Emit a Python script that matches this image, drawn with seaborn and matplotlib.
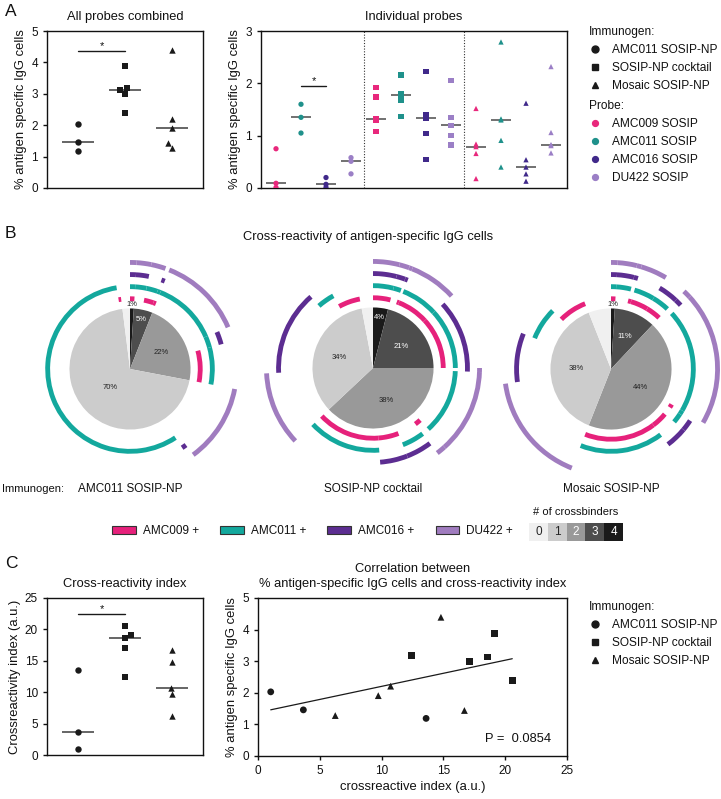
import numpy as np
import pandas as pd
import matplotlib
matplotlib.use("Agg")
import matplotlib.pyplot as plt
from matplotlib.lines import Line2D
from matplotlib.patches import Patch
from matplotlib.colors import ListedColormap
import seaborn as sns

# ---- data -------------------------------------------------------------
immunogens = ["AMC011 SOSIP-NP", "SOSIP-NP cocktail", "Mosaic SOSIP-NP"]
imm_markers = ["o", "s", "^"]
probes = ["AMC009 SOSIP", "AMC011 SOSIP", "AMC016 SOSIP", "DU422 SOSIP"]
probe_short = ["AMC009 +", "AMC011 +", "AMC016 +", "DU422 +"]

# one value per mouse (panel A left, C left, C right)
mouse_immunogen = ["AMC011 SOSIP-NP"] * 3 + ["SOSIP-NP cocktail"] * 5 + ["Mosaic SOSIP-NP"] * 5
pct_specific = [2.03, 1.46, 1.19, 3.19, 2.99, 3.13, 3.87, 2.40, 1.28, 1.91, 2.21, 4.39, 1.44]
cr_index = [1.03, 3.67, 13.6, 12.45, 17.1, 18.56, 19.13, 20.57, 6.25, 9.73, 10.73, 14.8, 16.7]

# individual probes, order = probes
probe_pct_amc011np = [[0.75, 0.09, 0.01], [1.60, 1.35, 1.05], [0.20, 0.07, 0.01], [0.58, 0.51, 0.27]]
probe_pct_cocktail = [[1.92, 1.74, 1.32, 1.30, 1.08], [2.16, 1.80, 1.77, 1.68, 1.37],
                      [2.22, 1.40, 1.34, 1.04, 0.55], [2.06, 1.35, 1.20, 1.00, 0.82]]
probe_pct_mosaic = [[1.52, 0.84, 0.79, 0.66, 0.18], [2.79, 1.32, 1.30, 0.91, 0.40],
                    [1.62, 0.54, 0.40, 0.27, 0.13], [2.32, 1.06, 0.83, 0.81, 0.67]]

# cross-binding subsets, clockwise from 12 o'clock
# a = AMC009, b = AMC011, c = AMC016, d = DU422
probe_codes = ["a", "b", "c", "d"]
pie1_sets = ["abcd", "bcd", "abd", "abc", "bd", "bc", "ab", "d", "c", "b", "a", ""]
pie1_pct = [1.0, 2.2, 2.2, 0.6, 12.6, 2.2, 7.2, 11.9, 0.8, 56.7, 0.6, 2.0]
pie2_sets = ["abcd", "bcd", "acd", "abd", "abc", "cd", "bd", "ad", "bc", "ac", "ab", "d", "c", "b", "a", ""]
pie2_pct = [4.0, 1.5, 0.5, 7.2, 11.8, 0.6, 12.7, 1.4, 4.4, 4.7, 14.2, 11.2, 14.4, 3.4, 5.0, 3.0]
pie3_sets = ["abcd", "bcd", "acd", "abd", "abc", "cd", "bd", "ab", "bc", "ac", "ab", "d", "c", "b", "a", ""]
pie3_pct = [1.0, 2.9, 0.7, 4.0, 3.4, 1.2, 20.2, 0.8, 1.9, 3.6, 16.3, 16.8, 8.3, 6.4, 6.5, 6.0]

pval_text = "P =  0.0854"

# ---- style ------------------------------------------------------------
marker_palette = ["#e8287c", "#1f918b", "#40298a", "#9b7fc6"]
ring_palette = ["#e6217b", "#13a89d", "#5c2d91", "#a07cbf"]
grey_levels = ["#f0f0f0", "#cccccc", "#999999", "#4d4d4d", "#1a1a1a"]

sns.set_theme(style="ticks", rc={
    "axes.linewidth": 1.0, "axes.edgecolor": "#111111",
    "xtick.major.width": 1.0, "ytick.major.width": 1.0,
    "xtick.major.size": 3, "ytick.major.size": 3,
    "xtick.labelsize": 8.5, "ytick.labelsize": 8.5,
    "axes.labelsize": 9.4, "axes.titlesize": 9.3, "font.size": 8.5,
    "text.color": "#111111", "axes.labelcolor": "#111111",
    "xtick.color": "#111111", "ytick.color": "#111111",
})
plt.rcParams["font.family"] = ["Liberation Sans", "DejaVu Sans"]

W, H = 721, 799
fig = plt.figure(figsize=(W / 100, H / 100), dpi=100)


def px_axes(l, t, r, b):
    return fig.add_axes([l / W, 1 - b / H, (r - l) / W, (b - t) / H])


df_mouse = pd.DataFrame({"immunogen": mouse_immunogen, "pct": pct_specific, "cri": cr_index})

rows = []
for imm, block in zip(immunogens, [probe_pct_amc011np, probe_pct_cocktail, probe_pct_mosaic]):
    for p, vals in zip(probes, block):
        for v in vals:
            rows.append((imm, p, imm + "|" + p, v))
df_probe = pd.DataFrame(rows, columns=["immunogen", "probe", "slot", "pct"])
slots = [imm + "|" + p for imm in immunogens for p in probes]


def group_dots(ax, col, med_width, sig_y, ylim, yticks):
    for imm, mk in zip(immunogens, imm_markers):
        sns.swarmplot(data=df_mouse[df_mouse.immunogen == imm], x="immunogen", y=col,
                      order=immunogens, marker=mk, color="k", size=4.6, ax=ax)
    sns.pointplot(data=df_mouse, x="immunogen", y=col, order=immunogens, estimator="median",
                  errorbar=None, markers="_", linestyles="none", color="0.35",
                  markersize=med_width, markeredgewidth=1.3, ax=ax)
    ax.plot([0, 1], [sig_y, sig_y], color="k", lw=1)
    ax.text(0.5, sig_y, "*", ha="center", va="bottom", fontsize=8)
    ax.set_xlim(-0.66, 2.66)
    ax.set_ylim(*ylim)
    ax.set_yticks(yticks)
    ax.set_xticks([])
    ax.set_xlabel("")


# ---- panel A ----------------------------------------------------------
axA1 = px_axes(47, 31, 203, 188)
group_dots(axA1, "pct", 23, 4.35, (0, 5), range(0, 6))
axA1.set_ylabel("% antigen specific IgG cells", labelpad=3)
axA1.set_title("All probes combined", pad=8)

axA2 = px_axes(261, 31, 567, 188)
for imm, mk in zip(immunogens, imm_markers):
    sns.stripplot(data=df_probe[df_probe.immunogen == imm], x="slot", y="pct", order=slots,
                  hue="probe", hue_order=probes, palette=marker_palette, marker=mk,
                  jitter=False, size=3.8, legend=False, ax=axA2)
sns.pointplot(data=df_probe, x="slot", y="pct", order=slots, estimator="median", errorbar=None,
              markers="_", linestyles="none", color="0.35", markersize=14, markeredgewidth=1.2,
              ax=axA2)
for b in (3.5, 7.5):
    axA2.axvline(b, color="#333333", ls=(0, (1, 1.5)), lw=0.8)
axA2.plot([1, 2], [1.95, 1.95], color="k", lw=1)
axA2.text(1.5, 1.95, "*", ha="center", va="bottom", fontsize=8)
axA2.set_xlim(-0.6, 11.64)
axA2.set_ylim(0, 3)
axA2.set_yticks(range(0, 4))
axA2.set_xticks([])
axA2.set_xlabel("")
axA2.set_ylabel("% antigen specific IgG cells", labelpad=3)
axA2.set_title("Individual probes", pad=8)

imm_handles = [Line2D([], [], marker=m, color="k", ls="none", markersize=5) for m in imm_markers]
probe_handles = [Line2D([], [], marker="o", color=c, ls="none", markersize=4.2) for c in marker_palette]
leg_kw = dict(loc="upper left", frameon=False, alignment="left", handlelength=1.0,
              handletextpad=0.9, labelspacing=0.5, borderpad=0, borderaxespad=0,
              fontsize=8.6, title_fontsize=8.6)
fig.legend(imm_handles, immunogens, title="Immunogen:", bbox_to_anchor=(589 / W, 1 - 26 / H), **leg_kw)
fig.legend(probe_handles, probes, title="Probe:", bbox_to_anchor=(589 / W, 1 - 100 / H), **leg_kw)

# ---- panel B ----------------------------------------------------------
fig.text(368 / W, 1 - 237 / H, "Cross-reactivity of antigen-specific IgG cells",
         ha="center", va="center", fontsize=9.3)

ring_outer = [1.2, 1.4, 1.6, 1.8]
ring_w = 0.08
pie_centers = [(130, 369), (373, 368), (611, 369)]


def draw_pie(ax, sets, pct):
    n_bind = [len(s) for s in sets]
    counts = [4, 3, 2, 1, 0]
    sector_pct = [sum(p for p, n in zip(pct, n_bind) if n == k) for k in counts]
    labels = [f"{round(v)}%" if k > 0 else "" for v, k in zip(sector_pct, counts)]
    _, texts = ax.pie(sector_pct, colors=[grey_levels[k] for k in counts], startangle=90,
                      counterclock=False, radius=1, labels=labels, labeldistance=0.58,
                      wedgeprops=dict(linewidth=0), textprops=dict(fontsize=5.5))
    for t, v, k in zip(texts, sector_pct, counts):
        x, y = t.get_position()
        if v < 2:
            s = 1.07 / 0.58
        elif v < 6:
            s = 0.84 / 0.58
        elif v > 50:
            s = 0.45 / 0.58
        else:
            s = 1.0
        t.set_position((x * s, y * s))
        t.set_ha("center")
        t.set_va("center")
        t.set_color("white" if (k >= 3 and v >= 2) else "#222222")
    for code, col, r in zip(probe_codes, ring_palette, ring_outer):
        cols = [col if code in s else "none" for s in sets]
        ax.pie(pct, colors=cols, radius=r, startangle=90, counterclock=False,
               wedgeprops=dict(width=ring_w, linewidth=0))
    ax.set_xlim(-1.85, 1.85)
    ax.set_ylim(-1.85, 1.85)
    ax.set_aspect("equal")
    ax.axis("off")


half = 112
for (cx, cy), sets, pct, imm in zip(pie_centers, [pie1_sets, pie2_sets, pie3_sets],
                                    [pie1_pct, pie2_pct, pie3_pct], immunogens):
    axp = px_axes(cx - half, cy - half, cx + half, cy + half)
    draw_pie(axp, sets, pct)
    fig.text(cx / W, 1 - 489 / H, imm, ha="center", va="center", fontsize=8.5)
fig.text(2 / W, 1 - 489 / H, "Immunogen:", ha="left", va="center", fontsize=8)

patch_handles = [Patch(facecolor=c, edgecolor="#333333", linewidth=0.8) for c in ring_palette]
fig.legend(patch_handles, probe_short, loc="center left", bbox_to_anchor=(112 / W, 1 - 531 / H),
           ncol=4, frameon=False, handlelength=2.0, handleheight=0.7, handletextpad=0.6,
           columnspacing=1.8, borderpad=0, borderaxespad=0, fontsize=8.5)

ax_cb = px_axes(529, 523, 623, 541)
sns.heatmap(np.array([[0, 1, 2, 3, 4]]), cmap=ListedColormap(grey_levels), vmin=-0.5, vmax=4.5,
            annot=True, cbar=False, xticklabels=False, yticklabels=False, ax=ax_cb,
            annot_kws=dict(fontsize=8.5))
fig.text(576 / W, 1 - 512 / H, "# of crossbinders", ha="center", va="center", fontsize=8)

# ---- panel C ----------------------------------------------------------
axC1 = px_axes(47, 598, 203, 755)
group_dots(axC1, "cri", 23, 22.5, (0, 25), range(0, 26, 5))
axC1.set_ylabel("Crossreactivity index (a.u.)", labelpad=3)
axC1.set_title("Cross-reactivity index", pad=8)

axC2 = px_axes(258, 598, 567, 756)
sns.scatterplot(data=df_mouse, x="cri", y="pct", style="immunogen", style_order=immunogens,
                markers=dict(zip(immunogens, imm_markers)), color="k", s=24, linewidth=0,
                legend=False, ax=axC2)
sns.regplot(data=df_mouse, x="cri", y="pct", scatter=False, ci=None,
            line_kws=dict(color="k", lw=0.9), ax=axC2)
axC2.set_xlim(0, 25)
axC2.set_ylim(0, 5)
axC2.set_xticks(range(0, 26, 5))
axC2.set_yticks(range(0, 6))
axC2.set_xlabel("crossreactive index (a.u.)", labelpad=3)
axC2.set_ylabel("% antigen specific IgG cells", labelpad=3)
axC2.set_title("Correlation between\n% antigen-specific IgG cells and cross-reactivity index",
               pad=8, linespacing=1.3)
axC2.text(0.95, 0.11, pval_text, transform=axC2.transAxes, ha="right", va="center", fontsize=9.3)

fig.legend(imm_handles, immunogens, title="Immunogen:", bbox_to_anchor=(589 / W, 1 - 601 / H), **leg_kw)

# panel letters
for letter, y in (("A", 12), ("B", 233), ("C", 563)):
    fig.text(5 / W, 1 - y / H, letter, ha="left", va="center", fontsize=12.5)

fig.savefig("out.png", dpi=100)
